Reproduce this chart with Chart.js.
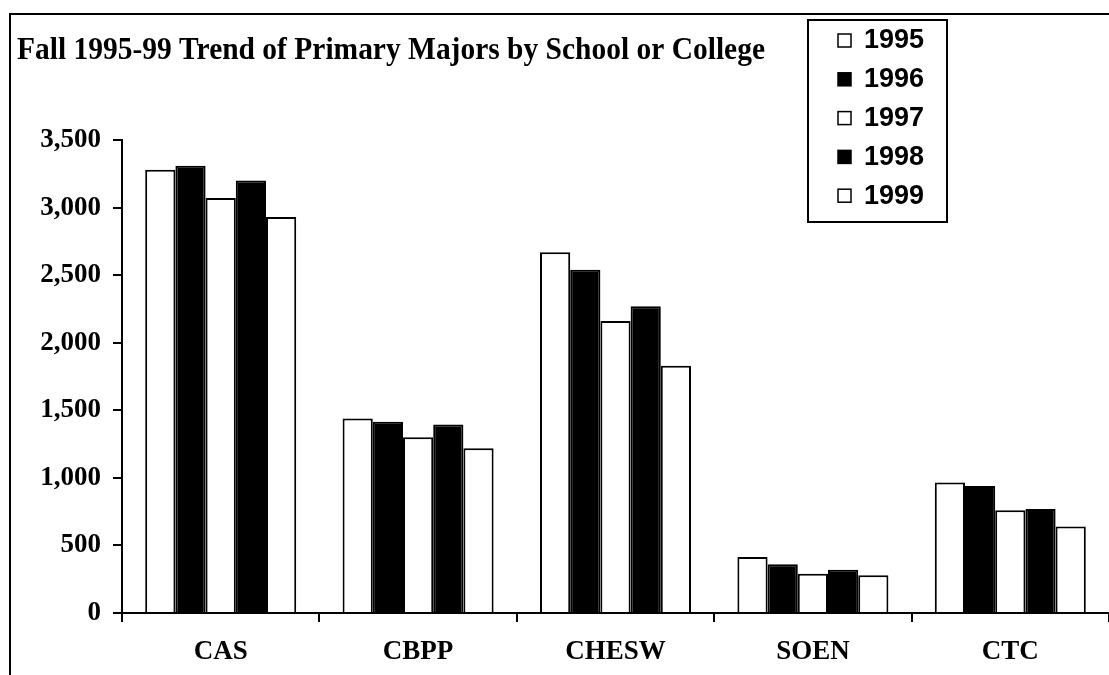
<!DOCTYPE html>
<html>
<head>
<meta charset="utf-8">
<script src="https://cdn.jsdelivr.net/npm/chart.js@4"></script>
<style>
  html, body { margin: 0; padding: 0; background: #fff; }
  #wrap { position: relative; width: 1109px; height: 675px; }
  #frame { position: absolute; left: 9px; top: 13px; right: 0; bottom: 0;
           border-left: 2px solid #000; border-top: 2px solid #000; pointer-events: none; }
</style>
</head>
<body>
<div id="wrap">
  <canvas id="chart" width="1109" height="675"></canvas>
  <div id="frame"></div>
</div>
<script>
const schools = ['CAS', 'CBPP', 'CHESW', 'SOEN', 'CTC'];
const years = ['1995', '1996', '1997', '1998', '1999'];
const majors1995 = [3280, 1440, 2670, 415, 965];
const majors1996 = [3310, 1415, 2540, 360, 940];
const majors1997 = [3070, 1300, 2160, 290, 760];
const majors1998 = [3200, 1395, 2270, 320, 770];
const majors1999 = [2930, 1220, 1830, 280, 640];
const yTicks = [0, 500, 1000, 1500, 2000, 2500, 3000, 3500];

const titleText = 'Fall 1995-99 Trend of Primary Majors by School or College';
const serif = "'Liberation Serif', 'Times New Roman', serif";

// fill alternates white / black like the scanned original
const fills = ['#ffffff', '#000000', '#ffffff', '#000000', '#ffffff'];
const series = [majors1995, majors1996, majors1997, majors1998, majors1999];

// title drawn on the canvas, stretched to the width of the original
const titlePlugin = {
    id: 'titleText',
    afterDraw(chart) {
        const ctx = chart.ctx;
        ctx.save();
        ctx.font = 'bold 27px ' + serif;
        ctx.fillStyle = '#000';
        ctx.textBaseline = 'middle';
        const w = ctx.measureText(titleText).width;
        ctx.translate(17, 51);
        ctx.scale(748 / w, 1.2);
        ctx.fillText(titleText, 0, 0);
        ctx.restore();
    }
};

// boxed legend sitting on top of the plot area
const boxLegend = {
    id: 'boxLegend',
    afterDraw(chart) {
        const ctx = chart.ctx;
        ctx.save();
        ctx.fillStyle = '#fff';
        ctx.fillRect(808, 20, 139, 202);
        ctx.lineWidth = 2;
        ctx.strokeStyle = '#000';
        ctx.strokeRect(808, 20, 139, 202);
        ctx.font = "bold 27px 'Liberation Sans', Arial, sans-serif";
        ctx.textBaseline = 'middle';
        chart.data.datasets.forEach((ds, i) => {
            const y = 40 + i * 38.8;
            ctx.fillStyle = ds.backgroundColor;
            ctx.fillRect(838, y - 6, 13, 13);
            ctx.lineWidth = 1.5;
            ctx.strokeRect(838, y - 6, 13, 13);
            ctx.fillStyle = '#000';
            ctx.fillText(ds.label, 864, y + 1);
        });
        ctx.restore();
    }
};

new Chart(document.getElementById('chart'), {
    type: 'bar',
    data: {
        labels: schools,
        datasets: years.map((y, i) => ({
            label: y,
            data: series[i],
            backgroundColor: fills[i],
            borderColor: '#000',
            borderWidth: 2,
            borderSkipped: 'bottom',
            categoryPercentage: 0.765,
            barPercentage: 1.0
        }))
    },
    options: {
        responsive: false,
        animation: false,
        events: [],
        layout: { padding: { top: 140, right: 0, left: 0, bottom: 0 } },
        plugins: {
            legend: { display: false },
            title: { display: false },
            tooltip: { enabled: false }
        },
        scales: {
            x: {
                offset: true,
                grid: {
                    offset: true,
                    drawOnChartArea: false,
                    color: '#000',
                    lineWidth: 2,
                    tickLength: 9
                },
                border: { color: '#000', width: 2 },
                ticks: {
                    color: '#000',
                    padding: 14,
                    font: { family: serif, size: 27, weight: 'bold' }
                },
                afterFit(scale) { scale.height = 62; }
            },
            y: {
                min: 0,
                max: 3500,
                afterBuildTicks(scale) { scale.ticks = yTicks.map(v => ({ value: v })); },
                grid: {
                    drawOnChartArea: false,
                    color: '#000',
                    lineWidth: 2,
                    tickLength: 9
                },
                border: { color: '#000', width: 2 },
                ticks: {
                    color: '#000',
                    padding: 12,
                    font: { family: serif, size: 27, weight: 'bold' },
                    callback: v => v.toLocaleString('en-US')
                },
                afterFit(scale) { scale.width = 122; }
            }
        }
    },
    plugins: [titlePlugin, boxLegend]
});
</script>
</body>
</html>
